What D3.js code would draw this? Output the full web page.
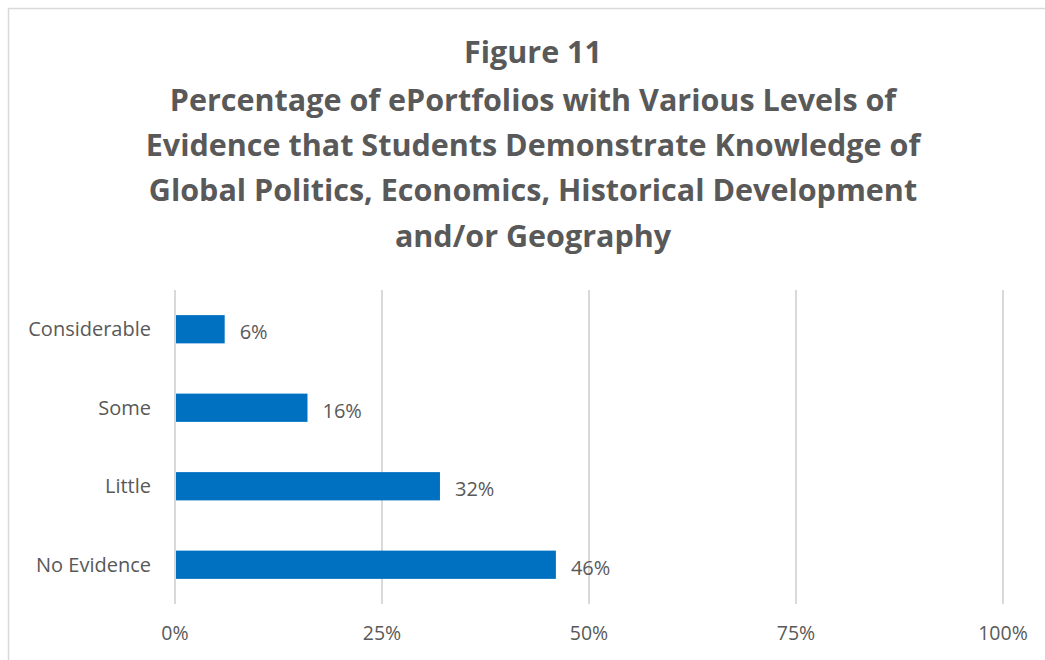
<!DOCTYPE html>
<html>
<head>
<meta charset="utf-8">
<script src="https://cdn.jsdelivr.net/npm/d3@7"></script>
<style>
  body { margin: 0; background: #fff; }
  text { font-family: "Open Sans", "Noto Sans", sans-serif; fill: #595959; }
</style>
</head>
<body>
<div id="chart"></div>
<script>
// chart data
const categories = ["Considerable", "Some", "Little", "No Evidence"];
const values = [6, 16, 32, 46];
const xTicks = [0, 25, 50, 75, 100];
const titleLines = [
  "Figure 11",
  "Percentage of ePortfolios with Various Levels of",
  "Evidence that Students Demonstrate Knowledge of",
  "Global Politics, Economics, Historical Development",
  "and/or Geography"
];

const width = 1045, height = 660;

const svg = d3.select("#chart")
  .append("svg")
    .attr("width", width)
    .attr("height", height);

// chart area border
svg.append("rect")
  .attr("x", 8.5).attr("y", 8.5)
  .attr("width", 1060).attr("height", 680)
  .attr("fill", "#fff")
  .attr("stroke", "#d9d9d9")
  .attr("stroke-width", 1.5);

// title
const titleY = [63, 111, 156, 201, 247];
svg.selectAll(".title")
  .data(titleLines)
  .join("text")
    .attr("class", "title")
    .attr("x", 533)
    .attr("y", (d, i) => titleY[i])
    .attr("text-anchor", "middle")
    .attr("font-size", 30.5)
    .attr("font-weight", "bold")
    .text(d => d);

// scales
const x = d3.scaleLinear().domain([0, 100]).range([175, 1003]);
const y = d3.scaleBand().domain(categories).range([290, 604]).paddingInner(0.64).paddingOuter(0.32);

// gridlines
svg.selectAll(".grid")
  .data(xTicks)
  .join("line")
    .attr("x1", d => x(d)).attr("x2", d => x(d))
    .attr("y1", 290).attr("y2", 604)
    .attr("stroke", "#d9d9d9")
    .attr("stroke-width", 2);

// x axis labels
svg.selectAll(".xlab")
  .data(xTicks)
  .join("text")
    .attr("x", d => x(d))
    .attr("y", 640)
    .attr("text-anchor", "middle")
    .attr("font-size", 19.5)
    .text(d => d + "%");

// bars
svg.selectAll(".bar")
  .data(values)
  .join("rect")
    .attr("x", x(0) + 1)
    .attr("y", (d, i) => y(categories[i]))
    .attr("width", d => x(d) - x(0) - 1)
    .attr("height", y.bandwidth())
    .attr("fill", "#0070c0");

// value labels
svg.selectAll(".val")
  .data(values)
  .join("text")
    .attr("x", d => x(d) + 15)
    .attr("y", (d, i) => y(categories[i]) + y.bandwidth() / 2 + 3)
    .attr("dy", "0.35em")
    .attr("font-size", 20)
    .text(d => d + "%");

// category labels
svg.selectAll(".cat")
  .data(categories)
  .join("text")
    .attr("x", 151)
    .attr("y", d => y(d) + y.bandwidth() / 2)
    .attr("dy", "0.35em")
    .attr("text-anchor", "end")
    .attr("font-size", 20)
    .text(d => d);
</script>
</body>
</html>
